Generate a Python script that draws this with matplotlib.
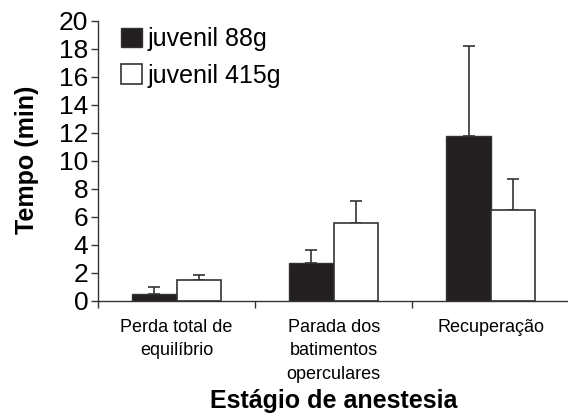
import numpy as np
import matplotlib
matplotlib.use("Agg")
import matplotlib.pyplot as plt

plt.rcParams['font.family'] = ['Liberation Sans', 'DejaVu Sans']

# data
stages = ["Perda total de\nequilíbrio", "Parada dos\nbatimentos\noperculares", "Recuperação"]
series_names = ["juvenil 88g", "juvenil 415g"]
mean_88 = [0.5, 2.7, 11.8]
err_88 = [0.45, 0.9, 6.4]
mean_415 = [1.45, 5.55, 6.5]
err_415 = [0.4, 1.55, 2.2]

edge = "#333333"
fig = plt.figure(figsize=(5.68, 4.16), dpi=100)
ax = fig.add_axes([0.1725, 0.277, 0.83, 0.673])

x = np.arange(len(stages))
w = 0.283
ax.bar(x - w / 2, mean_88, w, color="#231f20", edgecolor=edge, linewidth=1.0,
       label=series_names[0], zorder=2)
ax.bar(x + w / 2, mean_415, w, color="white", edgecolor=edge, linewidth=1.2,
       label=series_names[1], zorder=2)
ax.errorbar(x - w / 2, mean_88, yerr=[np.zeros(3), err_88], fmt="none",
            ecolor=edge, elinewidth=1.2, capsize=4.5, capthick=1.2, zorder=1)
ax.errorbar(x + w / 2, mean_415, yerr=[np.zeros(3), err_415], fmt="none",
            ecolor=edge, elinewidth=1.2, capsize=4.5, capthick=1.2, zorder=1)

ax.set_xlim(-0.5, 2.5)
ax.set_ylim(0, 20)
ax.set_yticks(np.arange(0, 21, 2))
ax.tick_params(axis="y", labelsize=19, length=5, width=1, color=edge, pad=2)
ax.set_xticks([-0.5, 0.5, 1.5, 2.5])
ax.set_xticklabels([])
ax.set_xticks(x, minor=True)
ax.set_xticklabels(stages, minor=True, fontsize=13, linespacing=1.5, va="top")
ax.tick_params(axis="x", which="minor", length=0, pad=13)
ax.tick_params(axis="x", which="major", length=5, width=1, color=edge)

for s in ["top", "right"]:
    ax.spines[s].set_visible(False)
for s in ["left", "bottom"]:
    ax.spines[s].set_color(edge)
    ax.spines[s].set_linewidth(1.0)

fig.text(0.048, 0.615, "Tempo (min)", fontsize=18, fontweight="bold",
         rotation=90, ha="center", va="center")
fig.text(0.587, 0.008, "Estágio de anestesia", fontsize=18, fontweight="bold",
         ha="center", va="bottom")

ax.legend(loc="upper left", bbox_to_anchor=(0.028, 1.013), frameon=False,
          fontsize=18, handlelength=0.85, handleheight=0.85, handletextpad=0.2,
          labelspacing=0.5, borderaxespad=0)

fig.savefig("out.png", dpi=100)
